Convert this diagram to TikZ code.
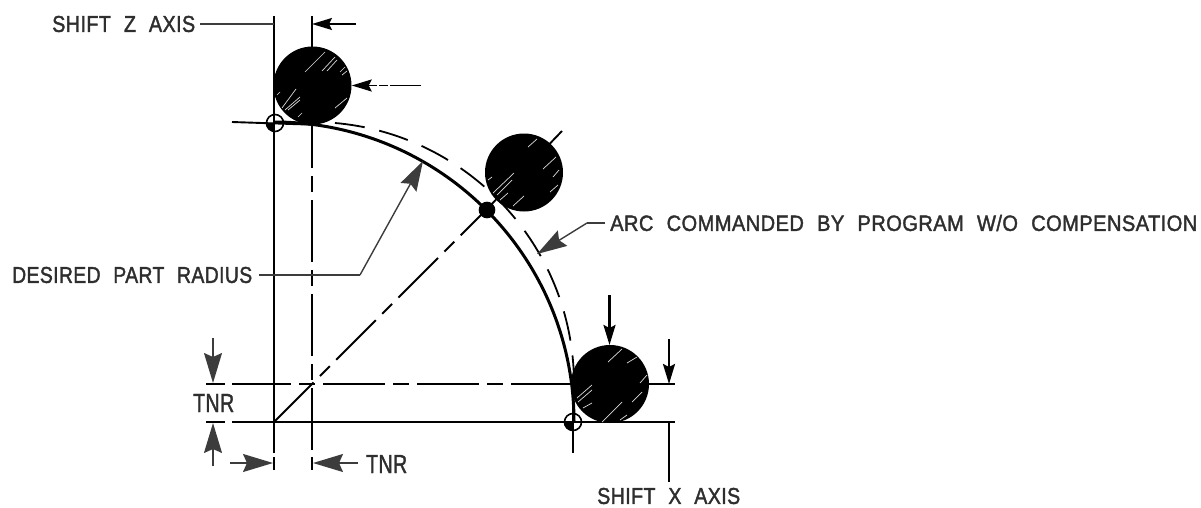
\documentclass[tikz,border=0pt]{standalone}
\usepackage{fontspec}
\usepackage{graphicx}
\setmainfont{Liberation Sans}[FakeBold=1.8,WordSpace=2.2]
\usetikzlibrary{arrows.meta}
\definecolor{ink}{HTML}{2E2E2E}
\definecolor{leader}{HTML}{3C3C3C}
\tikzset{
  x=1pt,y=1pt,
  thinline/.style={draw=black,line width=1.9pt},
  leaderline/.style={draw=leader,line width=1.4pt},
  centerline/.style={draw=black,line width=1.9pt,dash pattern=on 62pt off 8pt on 16pt off 8pt},
  mainarc/.style={draw=black,line width=3pt},
  comparc/.style={draw=black,line width=1.8pt,dash pattern=on 30pt off 15pt,dash phase=22pt},
  blackhead/.style={-{Stealth[length=20pt,width=12pt,inset=3pt]}},
  grayhead/.style={-{Stealth[length=30pt,width=18pt,inset=4pt]},draw=leader},
  tool/.style={circle,fill=black,inner sep=0pt,minimum size=78pt},
  pivot/.style={circle,draw=black,line width=1.6pt,inner sep=0pt,minimum size=17pt},
  hatch/.style={draw=white,line width=0.7pt,opacity=.85},
  lbl/.style={inner sep=0pt,text=ink},
}
\newcommand{\lab}[3]{\resizebox{#1pt}{#2pt}{\addfontfeature{LetterSpace=2}#3}}
\begin{document}
\begin{tikzpicture}
\useasboundingbox (0,0) rectangle (1201,-508);
% reference points
\coordinate (O) at (274,-422);
\coordinate (A) at (274,-122);
\coordinate (B) at (574,-422);
\coordinate (M) at (486.1,-209.9);
\coordinate (Dstart) at (312,-122);

% tool circles
\node[tool] (c1) at (312.5,-85.5) {};
\node[tool] (c2) at (524,-172.5) {};
\node[tool] (c3) at (610,-384) {};

% labels
\node[lbl,anchor=west] (sz) at (52,-24) {\lab{143}{16}{SHIFT Z AXIS}};
\node[lbl,anchor=west] (sx) at (597,-496) {\lab{143}{16}{SHIFT X AXIS}};
\node[lbl,anchor=west] (drr) at (12,-275) {\lab{240}{16}{DESIRED PART RADIUS}};
\node[lbl,anchor=west] (acd) at (610,-223) {\lab{587}{16}{ARC COMMANDED BY PROGRAM W/O COMPENSATION}};
\node[lbl,anchor=west] (t1) at (193,-403) {\lab{41}{18}{TNR}};
\node[lbl,anchor=west] (t2) at (366,-464) {\lab{41}{18}{TNR}};

% construction lines
\draw[thinline] (274,-16) -- (274,-453);
\draw[thinline] (312,-16) -- (312,-47);
\draw[centerline,dash phase=18pt] (312,-124) -- (312,-453);
\draw[thinline] (232,-122) -- (c1.south);
\draw[thinline] (232,-422) -- (615,-422);
\draw[thinline] (615,-422) -- (675,-422);
\draw[centerline,dash phase=3pt] (232,-384) -- (572,-384);
\draw[thinline] (633,-384) -- (675,-384);
\draw[thinline] (573,-384) -- (573,-453);
\draw[thinline] (669,-422) -- (669,-482);
\draw[thinline] (206,-384) -- (225,-384);
\draw[thinline] (206,-422) -- (225,-422);
\draw[thinline] (274,-457) -- (274,-470);
\draw[thinline] (312,-457) -- (312,-470);

% diagonal
\draw[draw=black,line width=1.9pt,dash pattern=on 56pt off 9pt on 14pt off 9pt] (O) -- (M);
\draw[thinline] (M) -- (562,-131);

% arcs
\draw[mainarc] (A) arc[start angle=90,end angle=0,radius=300pt];
\draw[comparc] (Dstart) arc[start angle=90,end angle=0,radius=262pt];

% hatch streaks
\foreach \a/\b/\c/\d in {305/72/325/52,322/71/335/57,327/71/337/60,340/72/345/67,342/75/347/71,335/108/347/98,282/108/296/89,285/110/300/97,288/110/300/100,298/117/302/113,277/95/280/92,
 528/147/537/139,543/169/556/157,553/177/559/170,550/192/558/185,493/193/514/173,497/195/512/180,500/200/508/193,513/206/524/196,488/180/492/177,
 608/362/622/349,627/363/637/357,632/402/642/392,640/383/647/375,602/422/622/402,577/398/592/385,578/402/592/390,583/408/592/403,620/420/627/415}
  \draw[hatch] (\a,-\b) -- (\c,-\d);

% pivots
\node[pivot] (p1) at (275,-123) {};
\node[pivot,fill=black,minimum size=15pt] (p2) at (487,-210) {};
\node[pivot] (p3) at (573,-422) {};
\fill (p1.center) -- (p1.west) arc[start angle=180,end angle=270,radius=8.5pt] -- cycle;
\fill (p3.center) -- (p3.west) arc[start angle=180,end angle=270,radius=8.5pt] -- cycle;

% leaders
\coordinate (szr) at (200,-24);
\draw[leaderline] (szr) -- (274,-24);
\coordinate (dra) at (259,-275);
\coordinate (drb) at (360,-275);
\coordinate (drt) at (423,-161);
\draw[leaderline] (dra) -- (drb);
\draw[leaderline,grayhead] (drb) -- (drt);
\coordinate (aca) at (605,-223);
\coordinate (acb) at (587,-223);
\coordinate (act) at (537,-254);
\draw[leaderline] (aca) -- (acb);
\draw[leaderline,grayhead] (acb) -- (act);

% black arrows
\draw[thinline,blackhead] (356,-24) -- (312,-24);
\draw[thinline,blackhead,dash pattern=on 31pt off 2pt on 9pt off 2pt on 30pt] (421,-85.5) -- (c1.east);
\draw[thinline,line width=2.4pt,blackhead] (609.5,-295) -- (609.5,-345);
\draw[thinline,line width=2.4pt,blackhead] (669,-339) -- (669,-384);

% TNR arrows
\draw[leaderline,grayhead] (213,-338) -- (213,-383);
\draw[leaderline,grayhead] (213,-466) -- (213,-423);
\draw[leaderline,grayhead] (230,-463) -- (273,-463);
\draw[leaderline,grayhead] (358,-463) -- (313,-463);
\end{tikzpicture}
\end{document}
